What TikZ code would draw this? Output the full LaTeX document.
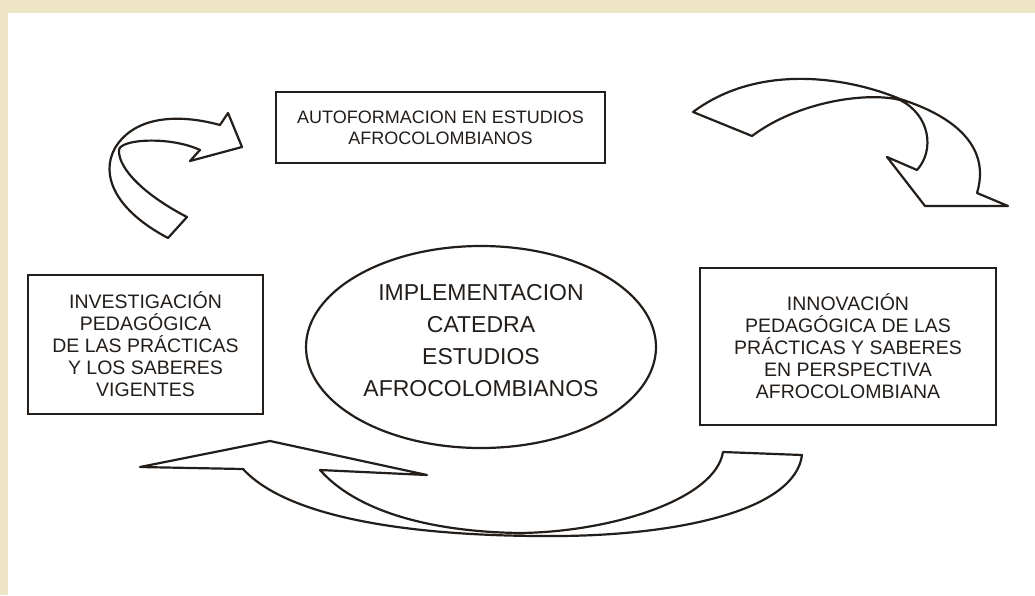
\documentclass[tikz,border=0pt]{standalone}
\usepackage{fontspec}
\setmainfont{Liberation Sans}
\usepackage{tikz}
\usetikzlibrary{shapes.geometric}
\definecolor{ink}{HTML}{231E1A}
\definecolor{parchment}{HTML}{EEE5C6}
\tikzset{
  textbox/.style={draw=ink, line width=2.8pt, fill=white, align=center, text=ink, inner sep=0pt},
  blockarrow/.style={draw=ink, line width=2.2pt, fill=white, line join=round},
}

\begin{document}
\begin{tikzpicture}[x=1pt, y=-1pt]

  \newcommand\autofont{\fontsize{18}{21}\selectfont}
  \newcommand\sidefont{\fontsize{19.5}{22}\selectfont}
  \newcommand\centrefont{\fontsize{23}{32}\selectfont}

  % page and parchment edge
  \useasboundingbox (0,0) rectangle (1035,595);
  \fill[white] (0,0) rectangle (1035,595);
  \fill[parchment] (0,0) rectangle (1035,13);
  \fill[parchment] (0,0) rectangle (8,595);

  % boxes
  \node[textbox, font=\autofont, minimum width=329pt, minimum height=71pt]
    (autof) at (440.5,127.5) {AUTOFORMACION EN ESTUDIOS\\AFROCOLOMBIANOS};
  \node[textbox, font=\sidefont, minimum width=235pt, minimum height=139pt]
    (invest) at (145.5,344.5) {INVESTIGACIÓN\\PEDAGÓGICA\\DE LAS PRÁCTICAS\\Y LOS SABERES\\VIGENTES};
  \node[textbox, font=\sidefont, minimum width=296pt, minimum height=157pt]
    (innov) at (848,346.5) {INNOVACIÓN\\PEDAGÓGICA DE LAS\\PRÁCTICAS Y SABERES\\EN PERSPECTIVA\\AFROCOLOMBIANA};

  % centre
  \node[ellipse, draw=ink, line width=2.2pt, fill=white, minimum width=350pt, minimum height=202pt, inner sep=0pt]
    (impl) at (481,347) {};
  \node[align=center, text=ink, font=\centrefont]
    (impltext) at ([yshift=6pt]impl.center) {IMPLEMENTACION\\CATEDRA\\ESTUDIOS\\AFROCOLOMBIANOS};

  % left arrow, up to the top box
  \draw[blockarrow] (168,238) -- (187,217)
    .. controls (148,197) and (118,170) .. (119,150)
    .. controls (120,139) and (170,136) .. (200,150)
    -- (190,161) -- (242,147) -- (228,113) -- (220,125)
    .. controls (180,114) and (135,115) .. (115,148)
    .. controls (100,175) and (115,210) .. cycle;

  % right arrow, down to the right box
  \draw[blockarrow] (693,112) -- (752,136)
    .. controls (800,100) and (870,92) .. (900,100)
    .. controls (930,115) and (935,150) .. (917,170)
    -- (887,157) -- (925,206) -- (1008,206) -- (977,193)
    .. controls (990,150) and (960,118) .. (900,99)
    .. controls (850,78) and (760,62) .. cycle;

  % bottom arrow, back to the left box
  \draw[blockarrow] (140,467) -- (270,441) -- (427,475) -- (320,470)
    .. controls (360,515) and (440,532) .. (520,533)
    .. controls (610,532) and (715,500) .. (723,452)
    -- (802,455)
    .. controls (795,510) and (680,535) .. (560,536)
    .. controls (420,537) and (290,520) .. (243,469)
    -- cycle;

\end{tikzpicture}
\end{document}
